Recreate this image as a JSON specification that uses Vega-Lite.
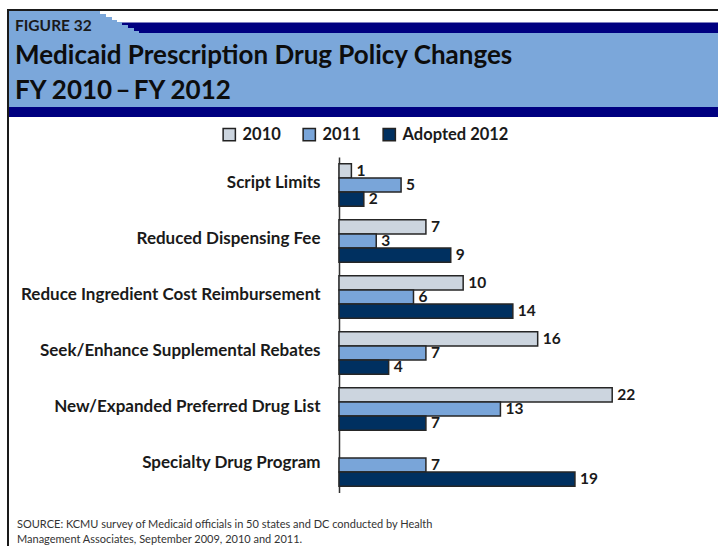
{
  "$schema": "https://vega.github.io/schema/vega-lite/v6.json",
  "background": "white",
  "padding": {"left": 5, "top": 7, "right": 0, "bottom": 0},
  "config": {"view": {"stroke": null}, "font": "Lato"},
  "spacing": 0,
  "bounds": "flush",
  "hconcat": [
    {"width": 2, "height": 539, "view": {"fill": "#1a1a1a", "stroke": null}, "data": {"values": [{}]}, "mark": {"type": "point", "opacity": 0}, "encoding": {}},
    {
      "spacing": 0,
      "bounds": "flush",
      "vconcat": [
        {"width": 711, "height": 2, "view": {"fill": "#1a1a1a", "stroke": null}, "data": {"values": [{"v": 0}]}, "mark": {"type": "point", "opacity": 0},
          "encoding": {"x": {"field": "v", "type": "quantitative", "scale": {"domain": [0, 1]},
            "axis": {"orient": "bottom", "domain": true, "domainColor": "#000080", "domainWidth": 11, "domainCap": "butt", "ticks": false, "labels": false, "grid": false, "title": null, "offset": 16.5}}}},
        {"width": 91, "height": 3, "view": {"fill": "#7BA7DA", "stroke": null}, "data": {"values": [{}]}, "mark": {"type": "point", "opacity": 0}, "encoding": {}},
        {"width": 97, "height": 3, "view": {"fill": "#7BA7DA", "stroke": null}, "data": {"values": [{}]}, "mark": {"type": "point", "opacity": 0}, "encoding": {}},
        {"width": 103, "height": 3, "view": {"fill": "#7BA7DA", "stroke": null}, "data": {"values": [{}]}, "mark": {"type": "point", "opacity": 0}, "encoding": {}},
        {"width": 108, "height": 2, "view": {"fill": "#7BA7DA", "stroke": null}, "data": {"values": [{}]}, "mark": {"type": "point", "opacity": 0}, "encoding": {}},
        {"width": 113, "height": 3, "view": {"fill": "#7BA7DA", "stroke": null}, "data": {"values": [{}]}, "mark": {"type": "point", "opacity": 0}, "encoding": {}},
        {"width": 119, "height": 3, "view": {"fill": "#7BA7DA", "stroke": null}, "data": {"values": [{}]}, "mark": {"type": "point", "opacity": 0}, "encoding": {}},
        {"width": 125, "height": 3, "view": {"fill": "#7BA7DA", "stroke": null}, "data": {"values": [{}]}, "mark": {"type": "point", "opacity": 0}, "encoding": {}},
        {"width": 130, "height": 2, "view": {"fill": "#7BA7DA", "stroke": null}, "data": {"values": [{}]}, "mark": {"type": "point", "opacity": 0}, "encoding": {}},
        {
          "width": 711, "height": 74,
          "view": {"fill": "#7BA7DA", "stroke": null},
          "title": {"text": "FIGURE 32", "orient": "top", "anchor": "start", "frame": "group", "offset": -13, "dx": 6, "baseline": "alphabetic", "font": "Lato", "fontSize": 15.5, "fontWeight": "bold", "color": "#1a1a1a"},
          "data": {"values": [{}]}, "mark": {"type": "point", "opacity": 0}, "encoding": {}
        },
        {
          "width": 711, "height": 10,
          "view": {"fill": "#000080", "stroke": null},
          "title": {"text": ["Medicaid Prescription Drug Policy Changes", "FY 2010\u2009–\u2009FY 2012"], "orient": "top", "anchor": "start", "frame": "group", "offset": -18, "dx": 6, "baseline": "alphabetic", "lineHeight": 35, "font": "Lato", "fontSize": 26, "fontWeight": "bold", "color": "#0d0d0d"},
          "data": {"values": [{}]}, "mark": {"type": "point", "opacity": 0}, "encoding": {}
        },
        {"width": 711, "height": 40, "view": {"fill": "white", "stroke": null}, "data": {"values": [{}]}, "mark": {"type": "point", "opacity": 0}, "encoding": {}},
        {
          "width": 711, "height": 336,
          "data": {"values": [
            {"policy": "Script Limits", "series": "2010", "value": 1},
            {"policy": "Script Limits", "series": "2011", "value": 5},
            {"policy": "Script Limits", "series": "Adopted 2012", "value": 2},
            {"policy": "Reduced Dispensing Fee", "series": "2010", "value": 7},
            {"policy": "Reduced Dispensing Fee", "series": "2011", "value": 3},
            {"policy": "Reduced Dispensing Fee", "series": "Adopted 2012", "value": 9},
            {"policy": "Reduce Ingredient Cost Reimbursement", "series": "2010", "value": 10},
            {"policy": "Reduce Ingredient Cost Reimbursement", "series": "2011", "value": 6},
            {"policy": "Reduce Ingredient Cost Reimbursement", "series": "Adopted 2012", "value": 14},
            {"policy": "Seek/Enhance Supplemental Rebates", "series": "2010", "value": 16},
            {"policy": "Seek/Enhance Supplemental Rebates", "series": "2011", "value": 7},
            {"policy": "Seek/Enhance Supplemental Rebates", "series": "Adopted 2012", "value": 4},
            {"policy": "New/Expanded Preferred Drug List", "series": "2010", "value": 22},
            {"policy": "New/Expanded Preferred Drug List", "series": "2011", "value": 13},
            {"policy": "New/Expanded Preferred Drug List", "series": "Adopted 2012", "value": 7},
            {"policy": "Specialty Drug Program", "series": "2011", "value": 7},
            {"policy": "Specialty Drug Program", "series": "Adopted 2012", "value": 19}
          ]},
          "encoding": {
            "y": {"field": "policy", "type": "nominal",
              "sort": ["Script Limits", "Reduced Dispensing Fee", "Reduce Ingredient Cost Reimbursement", "Seek/Enhance Supplemental Rebates", "New/Expanded Preferred Drug List", "Specialty Drug Program"],
              "scale": {"paddingInner": 0.24, "paddingOuter": 0.12},
              "axis": {"title": null, "ticks": false, "offset": -330, "domainColor": "#333333", "domainWidth": 1.5, "labelPadding": 19, "labelOffset": -2, "labelFont": "Lato", "labelFontSize": 17, "labelFontWeight": "bold", "labelColor": "#1a1a1a", "labelLimit": 0}},
            "yOffset": {"field": "series", "type": "nominal", "sort": ["2010", "2011", "Adopted 2012"], "scale": {"domain": ["2010", "2011", "Adopted 2012"], "paddingInner": 0, "paddingOuter": 0}},
            "x": {"field": "value", "type": "quantitative", "scale": {"domain": [-26.57, 30.68], "nice": false, "zero": false}, "axis": null}
          },
          "layer": [
            {
              "mark": {"type": "bar", "stroke": "#262626", "strokeWidth": 1.5},
              "encoding": {
                "color": {"field": "series", "type": "nominal",
                  "scale": {"domain": ["2010", "2011", "Adopted 2012"], "range": ["#CCD5DF", "#79A5D9", "#003060"]},
                  "legend": {"orient": "none", "legendX": 214, "legendY": 117, "direction": "horizontal", "title": null, "symbolType": "square", "symbolSize": 150, "symbolStrokeColor": "#222222", "symbolStrokeWidth": 1.5, "symbolOpacity": 1, "labelFont": "Lato", "labelFontSize": 16.5, "labelFontWeight": "bold", "labelColor": "#1a1a1a", "columnPadding": 19, "labelOffset": 5}}
              }
            },
            {
              "mark": {"type": "text", "align": "left", "baseline": "middle", "dx": 5, "font": "Lato", "fontSize": 15.5, "fontWeight": "bold", "color": "#1a1a1a"},
              "encoding": {"text": {"field": "value", "type": "quantitative"}}
            }
          ]
        },
        {
          "width": 711, "height": 22,
          "view": {"fill": "white", "stroke": null},
          "title": {"text": ["SOURCE: KCMU survey of Medicaid officials in 50 states and DC conducted by Health", "Management Associates, September 2009, 2010 and 2011."], "orient": "bottom", "anchor": "start", "frame": "group", "offset": 4, "dx": 8, "baseline": "top", "lineHeight": 15, "font": "Lato", "fontSize": 11, "fontWeight": "normal", "color": "#333333"},
          "data": {"values": [{}]}, "mark": {"type": "point", "opacity": 0}, "encoding": {}
        }
      ]
    }
  ]
}
